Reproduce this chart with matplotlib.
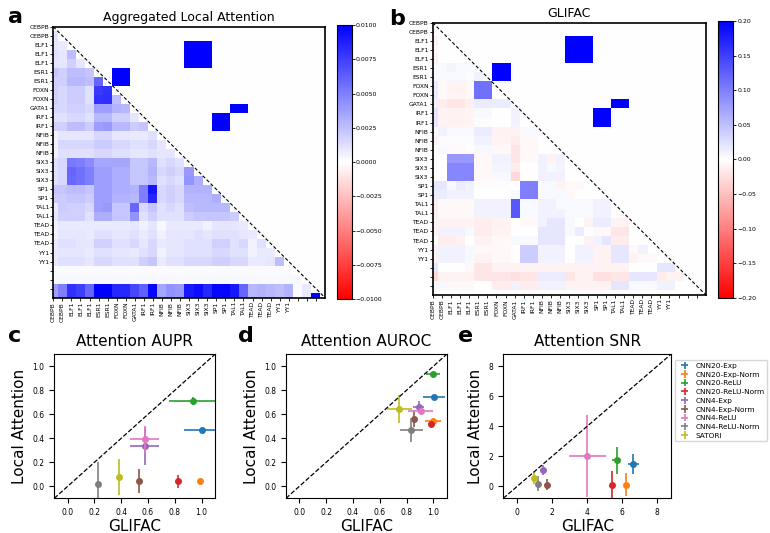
import numpy as np
import matplotlib
matplotlib.use('Agg')
import matplotlib.pyplot as plt

#-----------------
#Heatmap data
#-----------------
tf_labels = ['CEBPB', 'CEBPB', 'ELF1', 'ELF1', 'ELF1', 'ESR1', 'ESR1', 'FOXN', 'FOXN', 'GATA1',
             'IRF1', 'IRF1', 'NFIB', 'NFIB', 'NFIB', 'SIX3', 'SIX3', 'SIX3', 'SP1', 'SP1',
             'TAL1', 'TAL1', 'TEAD', 'TEAD', 'TEAD', 'YY1', 'YY1', '', '', '']

#ground truth interactions (row range, column range) shown in the upper triangle
gt_blocks = [((2, 4), (15, 17)), ((5, 6), (7, 8)), ((9, 9), (20, 21)), ((10, 11), (18, 19))]

#Aggregated local attention, lower triangle rows 1..30 (units of 1e-4)
attn_rows = [
    [12],
    [10, 8],
    [12, 10, 25],
    [10, 10, 18, 10],
    [22, 18, 25, 25, 22],
    [18, 18, 28, 28, 25, 60],
    [18, 15, 20, 20, 12, 78, 80],
    [18, 15, 20, 20, 12, 80, 82, 25],
    [15, 15, 18, 18, 15, 38, 38, 30, 28],
    [12, 12, 15, 15, 12, 28, 28, 18, 18, 10],
    [18, 18, 25, 25, 20, 38, 40, 28, 28, 20, 22],
    [5, 10, 10, 10, 10, 15, 15, 10, 10, 8, 8, 12],
    [5, 15, 15, 15, 15, 20, 20, 15, 15, 12, 12, 15, 10],
    [5, 12, 12, 12, 12, 15, 15, 12, 12, 10, 10, 12, 10, 10],
    [12, 15, 52, 50, 45, 35, 35, 35, 35, 22, 22, 28, 12, 15, 12],
    [12, 15, 60, 55, 50, 38, 38, 32, 32, 22, 22, 30, 15, 18, 15, 40],
    [12, 15, 58, 55, 50, 38, 38, 32, 32, 22, 22, 28, 12, 15, 12, 42, 32],
    [22, 22, 25, 25, 22, 38, 38, 32, 32, 30, 50, 92, 15, 18, 15, 30, 30, 30],
    [20, 20, 22, 22, 20, 38, 38, 30, 30, 28, 50, 85, 15, 18, 15, 28, 28, 28, 32],
    [8, 20, 18, 18, 15, 38, 40, 22, 22, 60, 15, 22, 12, 15, 12, 25, 28, 28, 28, 28],
    [10, 18, 18, 18, 12, 32, 32, 22, 22, 42, 12, 18, 12, 12, 12, 20, 22, 22, 22, 22, 20],
    [5, 8, 8, 8, 8, 8, 8, 8, 8, 10, 5, 10, 3, 8, 8, 8, 8, 5, 10, 10, 10, 8],
    [5, 10, 10, 10, 8, 12, 12, 10, 10, 12, 8, 12, 5, 10, 10, 10, 12, 10, 12, 12, 12, 10, 8],
    [8, 12, 12, 10, 10, 18, 18, 12, 12, 15, 10, 15, 8, 10, 10, 12, 12, 12, 18, 18, 12, 15, 5, 12],
    [8, 10, 10, 10, 8, 12, 12, 10, 10, 8, 12, 15, 5, 10, 10, 12, 12, 12, 15, 15, 12, 12, 5, 8, 8],
    [8, 12, 12, 12, 10, 15, 15, 12, 12, 12, 18, 22, 8, 12, 12, 15, 15, 15, 18, 18, 15, 15, 8, 8, 10, 25],
    [2, 2, 2, 2, 2, 2, 2, 2, 2, 2, 2, 2, 2, 2, 2, 2, 2, 2, 2, 2, 2, 2, 2, 2, 2, 2, 2],
    [3, 3, 3, 3, 3, 3, 3, 3, 3, 3, 3, 3, 3, 3, 3, 3, 3, 3, 3, 3, 3, 3, 3, 3, 3, 3, 3, 3],
    [38, 50, 80, 75, 60, 100, 100, 85, 85, 72, 62, 98, 35, 42, 40, 90, 95, 85, 98, 98, 90, 60, 28, 30, 28, 25, 30, 2, 8],
    [38, 50, 80, 75, 60, 100, 100, 85, 85, 72, 62, 98, 35, 42, 40, 90, 95, 85, 98, 98, 90, 60, 28, 30, 28, 25, 30, 2, 8, 100],
]

#GLIFAC, lower triangle rows 1..30 (units of 1e-2)
glifac_rows = [
    [0],
    [-1, 0],
    [-0.5, 0, 0],
    [-1, 0, 0, 0],
    [0.5, 0.5, 0.8, 0.5, 0.5],
    [0.5, 0.5, 0.5, 0.5, 0.3, 1],
    [1.5, -0.5, -0.8, -0.8, -0.5, 11, 11],
    [1.5, -0.5, -0.8, -0.8, -0.5, 11, 11, 0],
    [1, -1.5, -2, -2, -1.2, 1.5, 1.5, 1.5, 1.5],
    [2, -1, -1, -1, -0.8, 0.5, 0.5, 0, 0, 1],
    [2, -1, -1, -1, -0.8, 0.3, 0.3, 0, 0, 1, 0],
    [-0.5, 1, 0.5, 0.5, 0.5, 1.5, 1.5, -1, -1, -1, 0.5, 0.5],
    [-0.8, 0.3, 0.2, 0.2, 0.2, 1, 1, -0.8, -0.8, -1.5, -0.5, -0.5, 0],
    [-0.3, 0.5, -0.5, -0.5, -0.3, 0.5, 0.5, -0.5, -0.5, -2, -0.5, -0.5, 0, 0],
    [0.2, 0, 8, 8, 8, -0.5, -0.5, 1, 1, -2, -0.5, -0.5, 1, -1, 1],
    [-0.3, 0, 9.5, 9.5, 9.5, -0.5, -0.5, 0.8, 0.8, -1.5, 0, 0, 1, 0.5, 0.8, 0],
    [-0.3, 0, 9.5, 9.5, 9.5, -0.5, -0.5, 0.5, 0.5, -3, 0, 0, 1, 1, 1, 0, 0],
    [2, 2, 0.5, 1.5, 1, 0.3, 0.3, 0.3, 0.3, 0, 10, 10, 0.5, 0.5, -1, -0.5, -0.5, 0],
    [1.5, 1.5, 1, 1, 1, 0, 0, 0, 0, 0.5, 10, 10, 0.5, 0.5, 0.5, -0.5, 0, 0, 0],
    [-1.5, -0.5, -0.5, -0.5, -0.5, 1, 1, 1, 1, 13, 0.5, 0.5, 1, 1, 0.5, 0.5, 0.5, 0.5, 1, 1],
    [-1.5, -0.5, -0.5, -0.5, -0.5, 1, 1, 1, 1, 13, 0.5, 0.5, 1, 1, 1, 0.5, 0.5, 0.5, 1, 1, 0],
    [-1, -1, -1, -1, -1, -1.5, -1.5, -1, -1, 0, -0.5, -0.5, 1, 2, 2, 0.5, 0, -1, 1.5, 1.5, -1, -1],
    [-1, 1, 1, 1, 0.5, -1.5, -1.5, -0.8, -0.8, 0, 0, 0, 2, 2, 2, 0.5, 1.5, 0, -0.5, -0.5, -2, -2, 0],
    [0, -1.5, -1.5, -1, 0, -1, -1, -0.5, -0.5, 0.5, 0.5, 0.5, 2, 2, 2, 0, 0, -1, 1, 2, -1.5, -1.5, 0, 0],
    [-1, 1, 1, 1, 0.5, -0.5, -0.5, -0.5, -0.5, 0, 4, 4, 1, 1, 1, 0, 1, 1, -1, -1, 2, 2, -0.5, 1, 0],
    [-1, 1, 1, 1, 0.5, -1, -1, -0.5, -0.5, 0, 4, 4, 1, 1, 1, 0, 1, 1, -1, -1, 2, 2, -1, -0.5, -0.5, 0],
    [2, 0, 0, 0, -0.5, -2, -2, -1, -1, -1, -1, -1, -1, -1, -1, -1, -1, -1, -1, -1, -1, -1, 0, 0, 0, 2, 2],
    [-3, -1, -1, -1, -1, -2, -2, -2, -2, -2.5, -2, -2, 1.5, 1.5, 1.5, -2, -1, -1, -2.5, -2.5, -2, -2, 2, 2, 2, -1.5, -1, -1],
    [0.5, 0.5, -0.5, -0.5, -0.5, 0, 0, -1.5, -1.5, 1, -1.5, -1.5, 1, 1, 1, -1, -1, -1, -1, -1, 2, 2, 0.5, 0.5, 0.5, 1, 1, 0, 0],
    [0, 0, 0, 0, 0, 0, 0, 0, 0, 0, 0, 0, 0, 0, 0, 0, 0, 0, 0, 0, 0, 0, 0, 0, 0, 0, 0, 0, 0, 0],
]

#-----------------
#Scatter data
#-----------------
models = ['CNN20-Exp', 'CNN20-Exp-Norm', 'CNN20-ReLU', 'CNN20-ReLU-Norm', 'CNN4-Exp',
          'CNN4-Exp-Norm', 'CNN4-ReLU', 'CNN4-ReLU-Norm', 'SATORI']

aupr_x = [1.0, 0.985, 0.935, 0.825, 0.575, 0.535, 0.575, 0.23, 0.38]
aupr_y = [0.47, 0.04, 0.71, 0.04, 0.335, 0.045, 0.39, 0.02, 0.08]
aupr_xerr = [0.135, 0.01, 0.18, 0.01, 0.107, 0.01, 0.11, 0.01, 0.01]
aupr_yerr = [0.015, 0.01, 0.03, 0.057, 0.16, 0.1, 0.11, 0.18, 0.15]

auroc_x = [1.005, 1.0, 0.997, 0.98, 0.89, 0.855, 0.905, 0.837, 0.746]
auroc_y = [0.744, 0.54, 0.936, 0.52, 0.658, 0.56, 0.625, 0.467, 0.644]
auroc_xerr = [0.083, 0.06, 0.05, 0.02, 0.04, 0.02, 0.095, 0.087, 0.092]
auroc_yerr = [0.01, 0.01, 0.015, 0.015, 0.05, 0.065, 0.02, 0.1, 0.118]

snr_x = [6.65, 6.2, 5.7, 5.41, 1.47, 1.72, 4.02, 1.2, 0.94]
snr_y = [1.49, 0.11, 1.73, 0.11, 1.07, 0.11, 2.04, 0.18, 0.53]
snr_xerr = [0.32, 0.1, 0.26, 0.1, 0.15, 0.1, 1.07, 0.12, 0.1]
snr_yerr = [0.69, 0.78, 0.89, 0.93, 0.32, 0.38, 2.74, 0.5, 0.4]

colors = plt.rcParams['axes.prop_cycle'].by_key()['color'][:9]


def build_matrix(rows, scale, vmax):
    n = len(rows) + 1
    m = np.zeros((n, n))
    for i, r in enumerate(rows, start=1):
        m[i, :len(r)] = np.array(r) * scale
    for (r0, r1), (c0, c1) in gt_blocks:
        m[r0:r1 + 1, c0:c1 + 1] = vmax
    return m


def fmt_tick(v, nd):
    return f"{v:.{nd}f}".replace('-', '\u2212')


def heatmap(ax, cax, m, vmax, title, nd):
    im = ax.imshow(m, cmap='bwr_r', vmin=-vmax, vmax=vmax, aspect='auto',
                   interpolation='nearest')
    ax.plot([0, 30], [0, 30], color='k', linestyle=(0, (3, 2)), lw=0.8)
    ax.set_xlim(0, 30)
    ax.set_ylim(30, 0)
    ax.set_xticks(range(30))
    ax.set_xticklabels(tf_labels, rotation=90, fontsize=4.3)
    ax.set_yticks(range(30))
    ax.set_yticklabels(tf_labels, fontsize=4.3)
    ax.tick_params(length=2, width=0.6, pad=1)
    for s in ax.spines.values():
        s.set_linewidth(1.2)
    ax.set_title(title, fontsize=9, pad=4)

    ticks = np.linspace(-vmax, vmax, 9)
    cb = fig.colorbar(im, cax=cax, ticks=ticks)
    cb.ax.set_yticklabels([fmt_tick(t, nd) for t in ticks])
    cb.ax.tick_params(labelsize=4.5, length=2, width=0.6, pad=1)
    cb.outline.set_linewidth(0.8)


def scatter_panel(ax, xs, ys, xerrs, yerrs, lim, ticks, title):
    for i, name in enumerate(models):
        ax.errorbar(xs[i], ys[i], xerr=xerrs[i], yerr=yerrs[i], fmt='none',
                    ecolor=colors[i], elinewidth=1.2, label=name)
        ax.plot(xs[i], ys[i], 'o', color=colors[i], ms=4)
    ax.plot(lim, lim, color='k', linestyle='--', lw=0.9)
    ax.set_xlim(lim)
    ax.set_ylim(lim)
    ax.set_xticks(ticks)
    ax.set_yticks(ticks)
    ax.tick_params(labelsize=5.5)
    ax.set_title(title, fontsize=11)
    ax.set_xlabel('GLIFAC', fontsize=11, labelpad=1.5)
    ax.set_ylabel('Local Attention', fontsize=11, labelpad=4)


fig = plt.figure(figsize=(7.7, 5.33), dpi=100)

#Heatmaps
ax_a = fig.add_axes([0.0692, 0.4415, 0.3529, 0.5084])
cax_a = fig.add_axes([0.4372, 0.439, 0.0195, 0.514])
ax_b = fig.add_axes([0.5619, 0.4465, 0.3549, 0.5109])
cax_b = fig.add_axes([0.9325, 0.4415, 0.0195, 0.519])

heatmap(ax_a, cax_a, build_matrix(attn_rows, 1e-4, 0.01), 0.01,
        'Aggregated Local Attention', 4)
heatmap(ax_b, cax_b, build_matrix(glifac_rows, 1e-2, 0.2), 0.2, 'GLIFAC', 2)

#Scatter panels
ax_c = fig.add_axes([0.0705, 0.0651, 0.2087, 0.2702])
ax_d = fig.add_axes([0.3714, 0.0651, 0.2087, 0.2702])
ax_e = fig.add_axes([0.6536, 0.0651, 0.2178, 0.2702])

unit_ticks = [0.0, 0.2, 0.4, 0.6, 0.8, 1.0]
scatter_panel(ax_c, aupr_x, aupr_y, aupr_xerr, aupr_yerr, (-0.1, 1.1), unit_ticks,
              'Attention AUPR')
scatter_panel(ax_d, auroc_x, auroc_y, auroc_xerr, auroc_yerr, (-0.1, 1.1), unit_ticks,
              'Attention AUROC')
scatter_panel(ax_e, snr_x, snr_y, snr_xerr, snr_yerr, (-0.8, 8.8), [0, 2, 4, 6, 8],
              'Attention SNR')

ax_e.legend(loc='upper left', bbox_to_anchor=(1.0, 0.985), fontsize=5.3,
            labelspacing=0.35, handletextpad=0.5, borderpad=0.35)

#Panel letters
for x, y, s in [(0.010, 0.957, 'a'), (0.505, 0.953, 'b'), (0.010, 0.358, 'c'),
                (0.309, 0.358, 'd'), (0.595, 0.358, 'e')]:
    fig.text(x, y, s, fontsize=16, fontweight='bold', va='baseline')

plt.savefig('out.png', dpi=100)
